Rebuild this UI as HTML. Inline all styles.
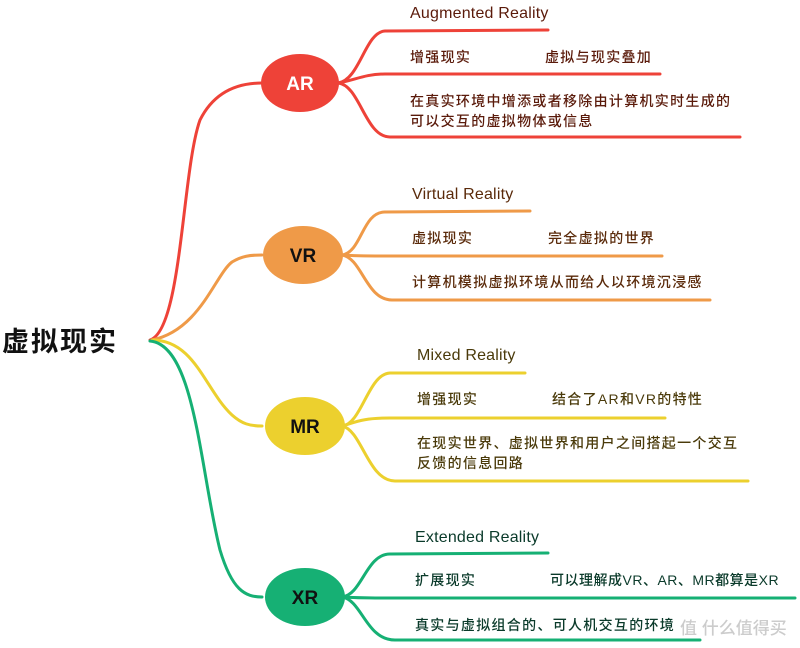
<!DOCTYPE html>
<html><head><meta charset="utf-8"><style>
html,body{margin:0;padding:0;background:#fff;}
svg{display:block}
text{font-family:"Liberation Sans","Noto Sans CJK SC",sans-serif;font-size:14px;letter-spacing:1.3px;font-weight:500}
text.t{font-size:16px;letter-spacing:0.2px}
</style></head><body>
<svg width="800" height="648" viewBox="0 0 800 648" xmlns="http://www.w3.org/2000/svg">
<g fill="none" stroke-width="3" stroke-linecap="round">
<path d="M150,340 C182,330 182,170 200,120 C215,90 240,83 262,83" stroke="#ee4238"/>
<path d="M152,340 C200,330 215,275 232,262 C242,256 250,255 262,255" stroke="#ef9a48"/>
<path d="M152,340 C195,340 205,390 232,415 C242,424 250,426 262,426" stroke="#ecd02e"/>
<path d="M150,341 C195,345 200,470 220,550 C232,590 245,597 262,597" stroke="#16b074"/>
<g stroke="#ee4238">
<path d="M338,83 C360,80 365,32 385,31 L548,30"/>
<path d="M338,83 C355,80 365,74 385,74 L660,74"/>
<path d="M338,83 C360,85 365,137 390,137 L740,137"/>
</g>
<g stroke="#ef9a48">
<path d="M342,255 C362,252 362,212 385,212 L530,211"/>
<path d="M342,255 C356,256 365,256 385,256 L662,256"/>
<path d="M342,255 C362,258 366,300 392,300 L710,300"/>
</g>
<g stroke="#ecd02e">
<path d="M342,426 C362,424 368,374 390,373 L525,373"/>
<path d="M342,426 C356,422 362,418 390,418 L665,418"/>
<path d="M342,426 C362,430 368,481 395,481 L748,481"/>
</g>
<g stroke="#16b074">
<path d="M342,597 C362,595 366,554 390,554 L548,553"/>
<path d="M342,597 C356,598 365,598 390,598 L795,598"/>
<path d="M342,597 C362,600 366,640 395,640 L700,640"/>
</g>
</g>
<ellipse cx="300" cy="83" rx="39" ry="29" fill="#ee4238"/>
<ellipse cx="303" cy="255" rx="40" ry="29" fill="#ef9a48"/>
<ellipse cx="305" cy="426" rx="40" ry="29" fill="#ecd02e"/>
<ellipse cx="305" cy="597" rx="40" ry="29" fill="#16b074"/>
<g text-anchor="middle">
<text x="300" y="90" fill="#fff" style="font-size:19px;letter-spacing:0;font-weight:bold">AR</text>
<text x="303" y="262" fill="#111" style="font-size:19px;letter-spacing:0;font-weight:bold">VR</text>
<text x="305" y="433" fill="#111" style="font-size:19px;letter-spacing:0;font-weight:bold">MR</text>
<text x="305" y="604" fill="#111" style="font-size:19px;letter-spacing:0;font-weight:bold">XR</text>
</g>
<text x="2" y="351" fill="#111" style="font-size:27px;letter-spacing:2px;font-weight:bold">虚拟现实</text>
<g fill="#5a1a0a">
<text class="t" x="410" y="18">Augmented Reality</text>
<text x="410" y="62">增强现实</text>
<text x="545" y="62">虚拟与现实叠加</text>
<text x="410" y="106">在真实环境中增添或者移除由计算机实时生成的</text>
<text x="410" y="126">可以交互的虚拟物体或信息</text>
</g>
<g fill="#5a2a0a">
<text class="t" x="412" y="199">Virtual Reality</text>
<text x="412" y="243">虚拟现实</text>
<text x="548" y="243">完全虚拟的世界</text>
<text x="412" y="287">计算机模拟虚拟环境从而给人以环境沉浸感</text>
</g>
<g fill="#4a3a0a">
<text class="t" x="417" y="360">Mixed Reality</text>
<text x="417" y="404">增强现实</text>
<text x="552" y="404">结合了AR和VR的特性</text>
<text x="417" y="448">在现实世界、虚拟世界和用户之间搭起一个交互</text>
<text x="417" y="468">反馈的信息回路</text>
</g>
<g fill="#0a3a2a">
<text class="t" x="415" y="542">Extended Reality</text>
<text x="415" y="585">扩展现实</text>
<text x="550" y="585" style="letter-spacing:0.5px">可以理解成VR、AR、MR都算是XR</text>
<text x="415" y="630">真实与虚拟组合的、可人机交互的环境</text>
</g>
<text x="680" y="634" fill="#ccc" style="font-size:17px;letter-spacing:0">值 什么值得买</text>
</svg>
</body></html>
